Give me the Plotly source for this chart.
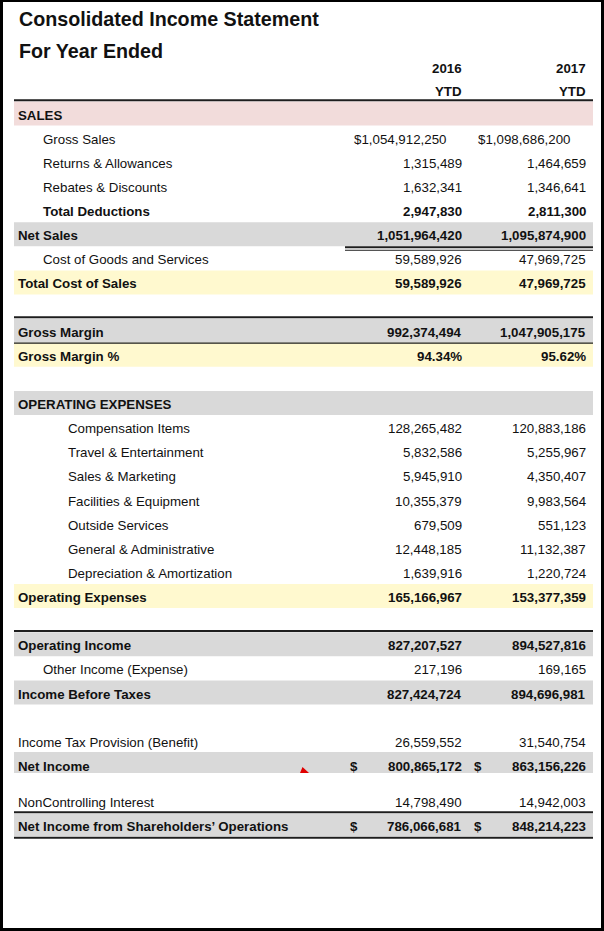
import plotly.graph_objects as go

# ---------------- data ----------------
title_lines = ["Consolidated Income Statement", "For Year Ended"]
years = ["2016", "2017"]
period = "YTD"

labels = [
    "SALES", "Gross Sales", "Returns & Allowances", "Rebates & Discounts",
    "Total Deductions", "Net Sales", "Cost of Goods and Services",
    "Total Cost of Sales", "", "Gross Margin", "Gross Margin %", "",
    "OPERATING EXPENSES", "Compensation Items", "Travel & Entertainment",
    "Sales & Marketing", "Facilities & Equipment", "Outside Services",
    "General & Administrative", "Depreciation & Amortization",
    "Operating Expenses", "", "Operating Income", "Other Income (Expense)",
    "Income Before Taxes", "", "Income Tax Provision (Benefit)", "Net Income",
    "", "NonControlling Interest", "Net Income from Shareholders\u2019 Operations",
]

values_2016 = [
    None, 1054912250, 1315489, 1632341, 2947830, 1051964420, 59589926,
    59589926, None, 992374494, 94.34, None, None, 128265482, 5832586,
    5945910, 10355379, 679509, 12448185, 1639916, 165166967, None,
    827207527, 217196, 827424724, None, 26559552, 800865172, None,
    14798490, 786066681,
]

values_2017 = [
    None, 1098686200, 1464659, 1346641, 2811300, 1095874900, 47969725,
    47969725, None, 1047905175, 95.62, None, None, 120883186, 5255967,
    4350407, 9983564, 551123, 11132387, 1220724, 153377359, None,
    894527816, 169165, 894696981, None, 31540754, 863156226, None,
    14942003, 848214223,
]

# ---------------- styling / layout (kept separate from data) ----------------
W, H = 604, 931
FONT = "Liberation Sans, Arial, sans-serif"
TXT = "#111111"
LINE = "#1e1e1e"
PINK = "#f2dcdb"
GREY = "#d9d9d9"
YELLOW = "#fff9cf"

bold_rows = {"SALES", "Total Deductions", "Net Sales", "Total Cost of Sales",
             "Gross Margin", "Gross Margin %", "OPERATING EXPENSES",
             "Operating Expenses", "Operating Income", "Income Before Taxes",
             "Net Income", "Net Income from Shareholders\u2019 Operations"}
indent1 = {"Gross Sales", "Returns & Allowances", "Rebates & Discounts",
           "Total Deductions", "Cost of Goods and Services",
           "Other Income (Expense)"}
indent2 = {"Compensation Items", "Travel & Entertainment", "Sales & Marketing",
           "Facilities & Equipment", "Outside Services",
           "General & Administrative", "Depreciation & Amortization"}
band_color = {"SALES": PINK, "Net Sales": GREY, "Gross Margin": GREY,
              "OPERATING EXPENSES": GREY, "Operating Income": GREY,
              "Income Before Taxes": GREY, "Net Income": GREY,
              "Net Income from Shareholders\u2019 Operations": GREY,
              "Total Cost of Sales": YELLOW, "Gross Margin %": YELLOW,
              "Operating Expenses": YELLOW}
dollar_rows = {"Net Income", "Net Income from Shareholders\u2019 Operations"}
dollar_prefix_rows = {"Gross Sales"}   # accounting format with trailing pad
percent_rows = {"Gross Margin %"}

# row geometry (pixel units in the axis space)
ROW_H = 24.13
first_y = 115.0
row_units = [1.0] * len(labels)
row_units[28] = 0.5  # short spacer before NonControlling Interest
row_y = [first_y]
for i in range(1, len(labels)):
    row_y.append(row_y[-1] + ROW_H * (row_units[i - 1] + row_units[i]) / 2)

X_LEFT, X_RIGHT = 14, 593
X_LBL = {0: 18, 1: 43, 2: 68}
X_COL = [462, 586]
PREFIX_PAD = 16
X_DOLLAR = [354, 478]
FS = 13.3

def fmt(label, v):
    if v is None:
        return ""
    if label in percent_rows:
        return f"{v:.2f}%"
    s = f"{v:,.0f}"
    if label in dollar_prefix_rows:
        s = "$" + s
    return s

shapes = []
annotations = []

def ann(x, y, text, anchor="left", bold=False, size=FS):
    annotations.append(dict(
        x=x, y=y, xref="x", yref="y", text=f"<b>{text}</b>" if bold else text,
        showarrow=False, xanchor=anchor, yanchor="middle",
        font=dict(family=FONT, size=size, color=TXT),
        borderpad=0, borderwidth=0,
    ))

def hline(x0, x1, y, w):
    shapes.append(dict(type="line", xref="x", yref="y", x0=x0, x1=x1,
                       y0=y, y1=y, line=dict(color=LINE, width=w), layer="above"))

# bands
for lab, y in zip(labels, row_y):
    if lab in band_color:
        top, bot = y - 13.5, y + 10.5
        if lab == "Net Income":
            top, bot = y - 14.5, y + 6.5
        if lab == "Net Income from Shareholders\u2019 Operations":
            top, bot = y - 13.0, y + 9.5
        shapes.append(dict(type="rect", xref="x", yref="y", x0=X_LEFT, x1=X_RIGHT,
                           y0=top, y1=bot, fillcolor=band_color[lab],
                           line=dict(width=0), layer="below"))

# titles
ann(19, 19, title_lines[0], bold=True, size=19.7)
ann(19, 51, title_lines[1], bold=True, size=19.7)
for yr, xc in zip(years, X_COL):
    ann(xc, 68, yr, anchor="right", bold=True)
    ann(xc, 91, period, anchor="right", bold=True)

# rows
for i, lab in enumerate(labels):
    if not lab:
        continue
    y = row_y[i]
    b = lab in bold_rows
    lvl = 2 if lab in indent2 else (1 if lab in indent1 else 0)
    ann(X_LBL[lvl], y, lab, bold=b)
    for vals, xc in zip((values_2016, values_2017), X_COL):
        t = fmt(lab, vals[i])
        if t:
            xr = xc - PREFIX_PAD if lab in dollar_prefix_rows else xc
            ann(xr, y, t, anchor="right", bold=b)
    if lab in dollar_rows:
        for xd in X_DOLLAR:
            ann(xd, y, "$", anchor="center", bold=True)

idx = {lab: i for i, lab in enumerate(labels) if lab}
# rules
hline(X_LEFT, X_RIGHT, row_y[idx["SALES"]] - 14.8, 2)
ns = row_y[idx["Net Sales"]]
hline(345, X_RIGHT, ns + 11.6, 2)
hline(345, X_RIGHT, ns + 14.6, 1)
gm = row_y[idx["Gross Margin"]]
hline(X_LEFT, X_RIGHT, gm - 14.8, 2)
hline(X_LEFT, X_RIGHT, gm + 11.0, 1.2)
oi = row_y[idx["Operating Income"]]
hline(X_LEFT, X_RIGHT, oi - 14.8, 2)
ni = row_y[idx["Net Income from Shareholders\u2019 Operations"]]
hline(X_LEFT, X_RIGHT, ni - 14.5, 2)
hline(X_LEFT, X_RIGHT, ni + 10.8, 2)

# small red comment marker in the Net Income row
nin = row_y[idx["Net Income"]]
shapes.append(dict(type="path", xref="x", yref="y",
                   path=f"M 300,{nin+6.5} L 302.5,{nin+0.5} L 309,{nin+6.5} Z",
                   fillcolor="#e00000", line=dict(width=0), layer="above"))

# black frame
for x0, x1, y0, y1 in [(0, 3, 0, H), (601, W, 0, H), (0, W, 0, 2), (0, W, 928, H)]:
    shapes.append(dict(type="rect", xref="x", yref="y", x0=x0, x1=x1, y0=y0, y1=y1,
                       fillcolor="#000000", line=dict(width=0), layer="above"))

fig = go.Figure()
fig.add_trace(go.Scatter(x=[0, W], y=[0, H], mode="markers",
                         marker=dict(opacity=0), hoverinfo="skip", showlegend=False))
fig.update_layout(
    width=W, height=H, autosize=False,
    margin=dict(l=0, r=0, t=0, b=0),
    paper_bgcolor="white", plot_bgcolor="white",
    xaxis=dict(range=[0, W], visible=False, fixedrange=True),
    yaxis=dict(range=[H, 0], visible=False, fixedrange=True),
    shapes=shapes, annotations=annotations, showlegend=False,
)
fig.write_html("out.html", config={"displayModeBar": False},
               post_script="document.body.style.margin='0px';document.body.style.overflow='hidden';")
